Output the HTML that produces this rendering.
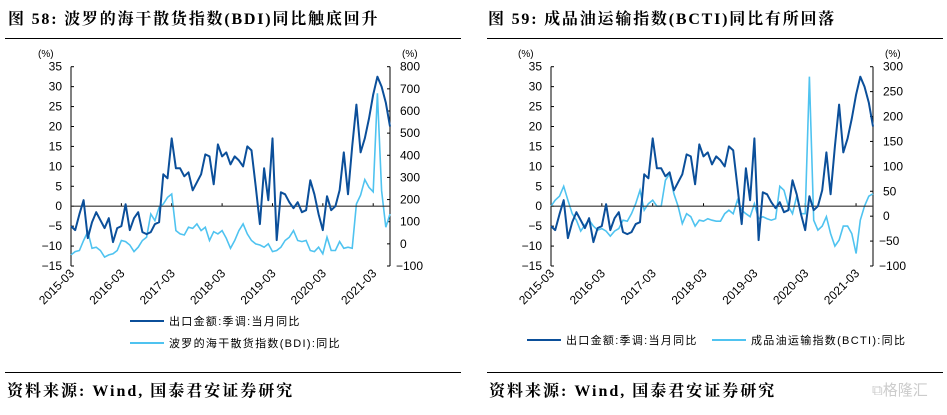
<!DOCTYPE html>
<html><head><meta charset="utf-8"><style>
body{margin:0;background:#fff;width:947px;height:410px;overflow:hidden;font-family:"Liberation Sans","Noto Sans CJK SC",sans-serif}
svg text{font-family:"Liberation Sans","Noto Sans CJK SC",sans-serif}
.t{font-family:"Liberation Serif","Noto Serif CJK SC",serif;font-weight:bold}
</style></head><body>
<svg id="s" width="947" height="410" xmlns="http://www.w3.org/2000/svg">
<text class="t" x="8" y="24" font-size="16" letter-spacing="1.8">图 58:  波罗的海干散货指数(BDI)同比触底回升</text>
<text class="t" x="488" y="24" font-size="16" letter-spacing="1.8">图 59:  成品油运输指数(BCTI)同比有所回落</text>
<line x1="5" y1="38.5" x2="461" y2="38.5" stroke="#000" stroke-width="1"/>
<line x1="487" y1="38.5" x2="943" y2="38.5" stroke="#000" stroke-width="1"/>
<line x1="5" y1="372.5" x2="461" y2="372.5" stroke="#000" stroke-width="1"/>
<line x1="487" y1="372.5" x2="943" y2="372.5" stroke="#000" stroke-width="1"/>
<text class="t" x="7" y="396" font-size="16" letter-spacing="2">资料来源: Wind, 国泰君安证券研究</text>
<text class="t" x="489" y="396" font-size="16" letter-spacing="2">资料来源: Wind, 国泰君安证券研究</text>
<text x="872" y="395" font-size="15" fill="#ccc">⧉格隆汇</text>
</svg>
<script>
const months = ["2015-03","2016-03","2017-03","2018-03","2019-03","2020-03","2021-03"];
const leftTicks = [35,30,25,20,15,10,5,0,-5,-10,-15];
const bdiTicks = [800,700,600,500,400,300,200,100,0,-100];
const bctiTicks = [300,250,200,150,100,50,0,-50,-100];
const exports = [-5,-6,-2,1.5,-8,-4,-1.5,-3.5,-5.5,-3,-9,-5.5,-5,0.5,-6,-3,-1.5,-6.5,-7,-6.5,-4.5,-4,8,7,17,9.5,9.5,7.5,8.5,4,6,8,13,12.5,5.5,15.5,12.5,13.5,10.5,12.5,11.5,10,15,14,5,-4.5,9.5,1.5,17,-8.5,3.5,3,1,-0.5,1,-1.5,-1,6.5,3,-2,-6,2.5,-1,0,4,13.5,3,15,25.5,13.5,17,22,28,32.5,30,26,20];
const bdi = [-50,-35,-30,15,55,-20,-15,-30,-60,-50,-45,-30,15,10,-5,-35,-15,15,30,135,105,165,180,210,225,60,45,40,75,70,90,60,75,15,55,45,60,25,-20,15,60,90,45,15,0,-5,-15,0,-35,-30,-15,15,30,60,15,10,15,-30,-35,-15,-45,30,-30,-30,10,-20,-15,-20,180,220,290,255,235,680,240,75,135];
const bcti = [20,32,40,60,32,5,-8,-30,-18,-8,-20,-28,-25,-30,-40,-30,-25,-8,-10,5,25,52,12,25,32,20,20,72,85,45,20,-15,5,-1,-20,-8,-10,-5,-8,-10,-10,5,12,5,32,12,5,-1,25,-5,-1,-5,-8,-5,60,52,20,5,40,5,5,280,-8,-28,-20,-1,-35,-60,-48,-20,-20,-35,-75,-8,20,40,45];

const NS="http://www.w3.org/2000/svg";
const svg=document.getElementById('s');
function mk(tag,attrs,parent){const e=document.createElementNS(NS,tag);for(const k in attrs)e.setAttribute(k,attrs[k]);(parent||svg).appendChild(e);return e;}

function chart(p, rTicks, rMin, rMax, series2, name2){
  const g=mk('g',{});
  
  
  const yTop=66.7,yBot=266;
  const yL=v=>yTop+(35-v)/50*(yBot-yTop);
  const yR=v=>yTop+(rMax-v)/(rMax-rMin)*(yBot-yTop);
  const x=i=>p.x0+i*(p.x1-p.x0)/76;
  const la=mk('line',{x1:p.x0,y1:yTop,x2:p.x0,y2:yBot,stroke:'#000','stroke-width':1},g);
  
  
  const ra=mk('line',{x1:p.x1,y1:yTop,x2:p.x1,y2:yBot,stroke:'#000','stroke-width':1},g);
  
  
  leftTicks.forEach(v=>{
    mk('line',{x1:p.x0,y1:yL(v),x2:p.x0+3,y2:yL(v),stroke:'#000'},g);
    const t=mk('text',{x:p.x0-9,y:yL(v)+4,'font-size':12,'text-anchor':'end'},g);t.textContent=v<0?'−'+(-v):v;
    
    
  });
  rTicks.forEach(v=>{
    mk('line',{x1:p.x1,y1:yR(v),x2:p.x1-3,y2:yR(v),stroke:'#000'},g);
    const t=mk('text',{x:p.x1+(v<0?6:10),y:yR(v)+4,'font-size':12},g);t.textContent=v<0?'−'+(-v):v;
    
    
  });
  const u1=mk('text',{x:p.x0-33,y:57,'font-size':10},g);u1.textContent='(%)';
  
  
  const u2=mk('text',{x:p.x1+12,y:57,'font-size':10},g);u2.textContent='(%)';
  
  
  months.forEach((m,k)=>{
    const xx=x(k*12);
    mk('line',{x1:xx,y1:yL(0),x2:xx,y2:yL(0)-3,stroke:'#000'},g);
    const t=mk('text',{x:xx+4,y:yBot+8,'font-size':12,'text-anchor':'end',transform:`rotate(-45 ${xx+4} ${yBot+8})`},g);t.textContent=m;
    
    
  });
  const p2=mk('path',{d:series2.map((v,i)=>(i?'L':'M')+x(i).toFixed(1)+','+yR(v).toFixed(1)).join(''),fill:'none',stroke:'#4fc3f0','stroke-width':1.6},g);
  
  
  const z=mk('line',{x1:p.x0,y1:yL(0),x2:p.x1,y2:yL(0),stroke:'#333','stroke-width':1.2},g);
  
  
  const p1=mk('path',{d:exports.map((v,i)=>(i?'L':'M')+x(i).toFixed(1)+','+yL(v).toFixed(1)).join(''),fill:'none',stroke:'#0b4f9a','stroke-width':2,'stroke-linejoin':'round'},g);
  
  
  p.legend.forEach(L=>{
    mk('line',{x1:L.lx,y1:L.y,x2:L.lx+34,y2:L.y,stroke:L.c,'stroke-width':2},g);
    const t=mk('text',{x:L.lx+39,y:L.y+4,'font-size':11,'letter-spacing':1.3},g);t.textContent=L.t;
    
    
  });
}
chart({id:'bdi',x0:71,x1:390,legend:[{lx:130,y:321,c:'#0b4f9a',t:'出口金额:季调:当月同比'},{lx:130,y:343,c:'#4fc3f0',t:'波罗的海干散货指数(BDI):同比'}]},bdiTicks,-100,800,bdi,'bdi');
chart({id:'bcti',x0:551,x1:873,legend:[{lx:527,y:340,c:'#0b4f9a',t:'出口金额:季调:当月同比'},{lx:712,y:340,c:'#4fc3f0',t:'成品油运输指数(BCTI):同比'}]},bctiTicks,-100,300,bcti,'bcti');
</script>
</body></html>
